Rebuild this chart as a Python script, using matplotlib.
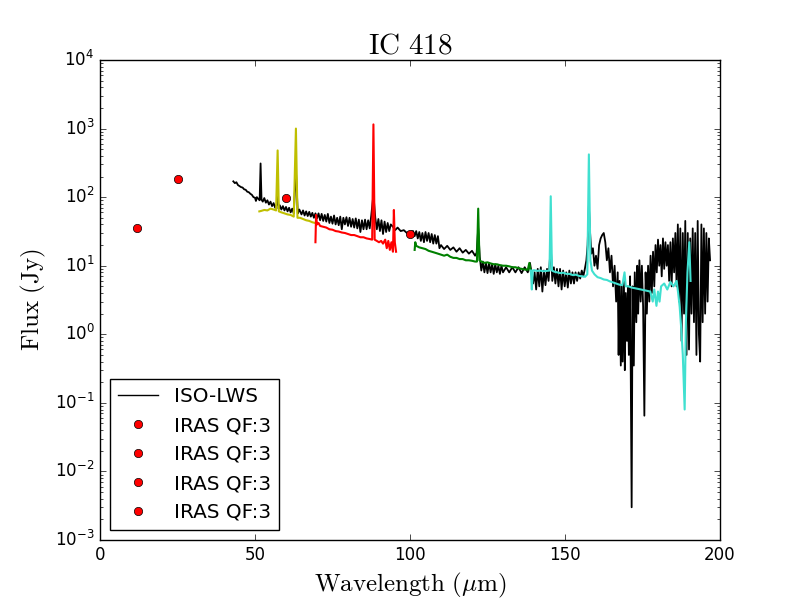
import matplotlib
matplotlib.use("Agg")
import matplotlib.pyplot as plt

plt.style.use('classic')

# ISO-LWS full spectrum (black)
iso_wl = [43.0, 43.5, 44.0, 44.5, 45, 45.5, 46, 46.5, 47, 47.5, 48, 48.5, 49, 49.5, 50, 50.3, 50.6, 51, 51.5,
          51.8, 52.1, 52.5, 53, 53.5, 54, 54.5, 55, 55.5, 56, 56.5, 57, 57.3, 57.6, 58, 58.5, 59, 59.5, 60,
          60.5, 61, 61.5, 62, 62.5, 63.2, 63.8, 64.3, 65, 65.5, 66, 66.5, 67, 67.5, 68, 68.5, 69, 69.5, 70,
          70.5, 71, 71.5, 72, 72.5, 73, 73.5, 74, 74.5, 75, 75.5, 76, 76.5, 77, 77.5, 78, 78.5, 79, 79.5, 80,
          80.5, 81, 81.5, 82, 82.5, 83, 83.5, 84, 84.5, 85, 85.5, 86, 86.5, 87, 87.5, 88.2, 88.8, 89.3, 89.8,
          90.3, 90.8, 91.3, 91.8, 92.3, 92.8, 93.3, 93.8, 94.5, 95.2, 96, 97, 98, 99, 100, 101, 101.5, 102,
          102.5, 103, 103.5, 104, 104.5, 105, 105.5, 106, 106.5, 107, 107.5, 108, 108.5, 109, 109.5, 110, 111,
          112, 113, 114, 115, 116, 117, 118, 119, 120, 121, 121.5, 122, 122.5, 123, 123.5, 124, 124.5, 125,
          125.5, 126, 126.5, 127, 127.5, 128, 128.5, 129, 129.5, 130, 131, 132, 133, 134, 135, 136, 137, 138,
          138.7, 139.2, 139.7, 140.2, 140.7, 141.2, 141.7, 142.2, 142.7, 143.2, 143.7, 144.2, 144.7, 145.4,
          145.9, 146.4, 146.9, 147.4, 147.9, 148.4, 148.9, 149.4, 149.9, 150.4, 150.9, 151.4, 151.9, 152.4,
          152.9, 153.4, 153.9, 154.4, 154.9, 155.4, 155.9, 156.4, 156.9, 157.3, 157.7, 158.1, 158.5, 159,
          159.5, 160, 160.5, 161, 161.5, 162, 162.5, 163, 163.5, 164, 164.5, 165, 165.5, 166, 166.5, 167,
          167.3, 167.6, 168, 168.3, 168.6, 169, 169.3, 169.6, 170, 170.3, 170.6, 171, 171.5, 171.8, 172.2,
          172.5, 173, 173.3, 173.6, 174, 174.4, 174.8, 175.2, 175.6, 176, 176.4, 176.8, 177.2, 177.6, 178,
          178.4, 178.8, 179.2, 179.6, 180, 180.4, 180.8, 181.2, 181.6, 182, 182.4, 182.8, 183.2, 183.6, 184,
          184.4, 184.8, 185.2, 185.6, 186, 186.4, 186.8, 187.2, 187.6, 188, 188.4, 188.8, 189.2, 189.6, 190,
          190.4, 190.8, 191.2, 191.6, 192, 192.4, 192.8, 193.2, 193.6, 194, 194.4, 194.8, 195.2, 195.6, 196,
          196.4, 196.8]
iso_flux = [170, 160, 165, 150, 145, 140, 138, 130, 128, 120, 118, 112, 108, 100, 98, 88, 100, 95, 90,
            310, 92, 86, 97, 83, 90, 78, 86, 74, 82, 70, 78, 110, 68, 76, 66, 74, 64, 72,
            62, 70, 60, 68, 58, 250, 58, 66, 56, 64, 54, 62, 53, 61, 52, 59, 50, 58, 49,
            58, 46, 57, 45, 55, 44, 57, 42, 52, 41, 54, 40, 50, 39, 52, 34, 50, 40, 51, 38,
            50, 37, 48, 36, 49, 35, 47, 31, 46, 34, 47, 34, 46, 35, 54, 110, 50, 34, 48,
            32, 46, 29, 44, 31, 42, 32, 40, 37, 33, 36, 32, 33, 30, 31, 32, 27, 32,
            25, 31, 23, 30, 22, 31, 23, 30, 22, 29, 21, 28, 21, 27, 18, 20, 17.5,
            19.5, 17, 18.5, 16, 18, 15.5, 17, 15, 16.5, 14, 15.5, 35, 13.5, 8.5, 11.5, 8, 11, 7.8,
            11, 8, 10.5, 7.6, 10.5, 8, 10, 7.6, 10, 8, 9.5, 8, 9.5, 8, 9.5, 7.8, 9.5, 8,
            11, 8, 5.5, 8, 4.5, 9, 5, 9.5, 4.2, 8.5, 5.2, 9, 6, 20,
            6, 9.5, 5.5, 9, 5, 9, 4.5, 8.5, 5, 8, 4.8, 8.5, 5.5, 8,
            5.5, 8, 6, 8, 6.5, 8.5, 7, 9, 12, 20, 75, 30, 15, 18,
            10, 14, 9, 20, 25, 28, 30, 22, 12, 18, 8, 14, 5, 10, 3, 8,
            0.5, 6, 0.35, 5, 0.4, 6, 0.3, 4, 0.8, 5, 0.5, 7, 0.003, 5, 0.35,
            8, 1.5, 10, 2, 12, 3, 10, 2.5, 0.065, 8, 2, 10, 3, 14, 4,
            16, 5, 20, 8, 24, 10, 20, 7, 25, 9, 22, 10, 20, 6, 22,
            5, 25, 8, 30, 5, 40, 3, 35, 0.8, 30, 2, 45, 0.5, 30, 0.6,
            25, 2, 35, 1.5, 30, 0.5, 45, 1, 0.4, 40, 1.5, 35, 2, 30, 3,
            25, 12]

# Band segments
yel_wl = [51.4, 52, 53, 54, 55, 56, 56.8, 57.3, 57.7, 58.5, 59.5, 60.5, 61.5, 62.5, 63.2, 63.7, 64.5,
          65.5, 66.5, 67.5, 68.5, 69.4]
yel_flux = [62, 63, 65, 64, 68, 66, 64, 480, 62, 60, 58, 56, 55, 52, 1000, 50, 50, 48, 46, 45, 43, 42]

red_wl = [69.5, 69.7, 70, 70.5, 71, 72, 73, 74, 75, 76, 77, 78, 79, 80, 81, 82, 83, 84, 85, 86, 87, 87.8,
          88.2, 88.6, 89.3, 90, 90.7, 91.3, 92, 92.5, 93, 93.5, 94, 94.5, 94.8, 95.1, 95.5]
red_flux = [22, 55, 40, 42, 38, 37, 36, 34, 33.5, 32, 31.5, 30.5, 30, 29, 28, 28, 27, 26, 26, 25, 24.5, 24,
            1150, 24, 23, 22, 23, 21, 24, 18, 23, 17, 22, 16, 65, 22, 16]

grn_wl = [101.5, 101.7, 102, 103, 104, 105, 106, 107, 108, 109, 110, 111, 112, 113, 114, 115, 116, 117,
          118, 119, 120, 121, 121.6, 122, 122.4, 123, 124, 125, 126, 127, 128, 129, 130, 131, 132, 133,
          134, 135, 136, 137, 138, 138.5, 138.9]
grn_flux = [17, 22, 19.5, 18.5, 18, 17.5, 16.5, 16, 15.5, 15, 14.5, 14, 14.5, 13.5, 13, 13, 12.5, 12.5,
            12, 12, 11.8, 11.5, 11.5, 68, 12, 11.5, 11, 11.2, 10.8, 10.5, 10.5, 10.2, 10, 10, 9.8, 9.5,
            9.5, 9.2, 9.0, 8.8, 8.7, 11, 8.5]

cyn_wl = [139, 139.3, 139.6, 140, 141, 142, 143, 144, 145, 145.4, 145.8, 146.5, 147.5, 148.5, 149.5,
          150.5, 151.5, 152.5, 153.5, 154.5, 155.5, 156.5, 157.2, 157.7, 158.2, 158.7, 159.5, 160.5,
          161.5, 162.5, 163.5, 164.5, 165.5, 166.5, 167.5, 168.5, 169.2, 169.6, 170.5, 171.5, 172.5,
          173.5, 174.5, 175.5, 176.5, 177.5, 178.3, 178.8, 179.5, 180, 180.5, 181, 182, 183, 184, 185,
          186, 186.5, 187, 187.5, 188, 188.6, 189, 189.5, 190.1, 190.5]
cyn_flux = [8.5, 4.5, 8.5, 8.6, 8.4, 8.5, 8.3, 8.4, 8.5, 103, 8.5, 8.2, 8.0, 7.8, 7.9,
            7.6, 7.6, 7.3, 7.4, 7.1, 7.0, 6.9, 7.5, 420, 12, 8.5, 7.5, 6.8,
            6.6, 6.3, 6.2, 5.9, 5.7, 5.5, 5.3, 5.2, 8, 5.0, 5.0, 4.8, 4.7,
            4.6, 4.5, 4.4, 4.3, 4.2, 3.0, 4.5, 2.6, 4.2, 3, 5, 5.5, 4.5, 5.8, 5.0,
            6.0, 4.0, 2.5, 1.2, 0.5, 0.08, 1.5, 8, 22, 6]

# IRAS photometry
iras_wl = [12, 25, 60, 100]
iras_flux = [35, 182, 96, 29]

fig = plt.figure(figsize=(8, 6), dpi=100)
ax = fig.add_subplot(111)

ax.plot(iso_wl, iso_flux, color='k', lw=1.3, label='ISO-LWS')
ax.plot(yel_wl, yel_flux, color='y', lw=1.5)
ax.plot(red_wl, red_flux, color='r', lw=1.5)
ax.plot(grn_wl, grn_flux, color='g', lw=1.5)
ax.plot(cyn_wl, cyn_flux, color='turquoise', lw=1.5)
for w, f in zip(iras_wl, iras_flux):
    ax.plot([w], [f], 'o', color='r', markeredgecolor='k', markersize=6, label='IRAS QF:3')

ax.set_yscale('log')
ax.set_xlim(0, 200)
ax.set_ylim(1e-3, 1e4)

ax.set_title(r'$\mathrm{IC\ 418}$', fontsize=21, math_fontfamily='cm')
ax.set_xlabel(r'$\mathrm{Wavelength\ (}\mu\mathrm{m)}$', fontsize=18, math_fontfamily='cm')
ax.set_ylabel(r'$\mathrm{Flux\ (Jy)}$', fontsize=18, math_fontfamily='cm')

leg = ax.legend(loc='lower left', numpoints=1, fontsize=14.4)
for line in leg.get_lines()[:1]:
    line.set_linewidth(1.0)

fig.savefig('out.png', dpi=100)
